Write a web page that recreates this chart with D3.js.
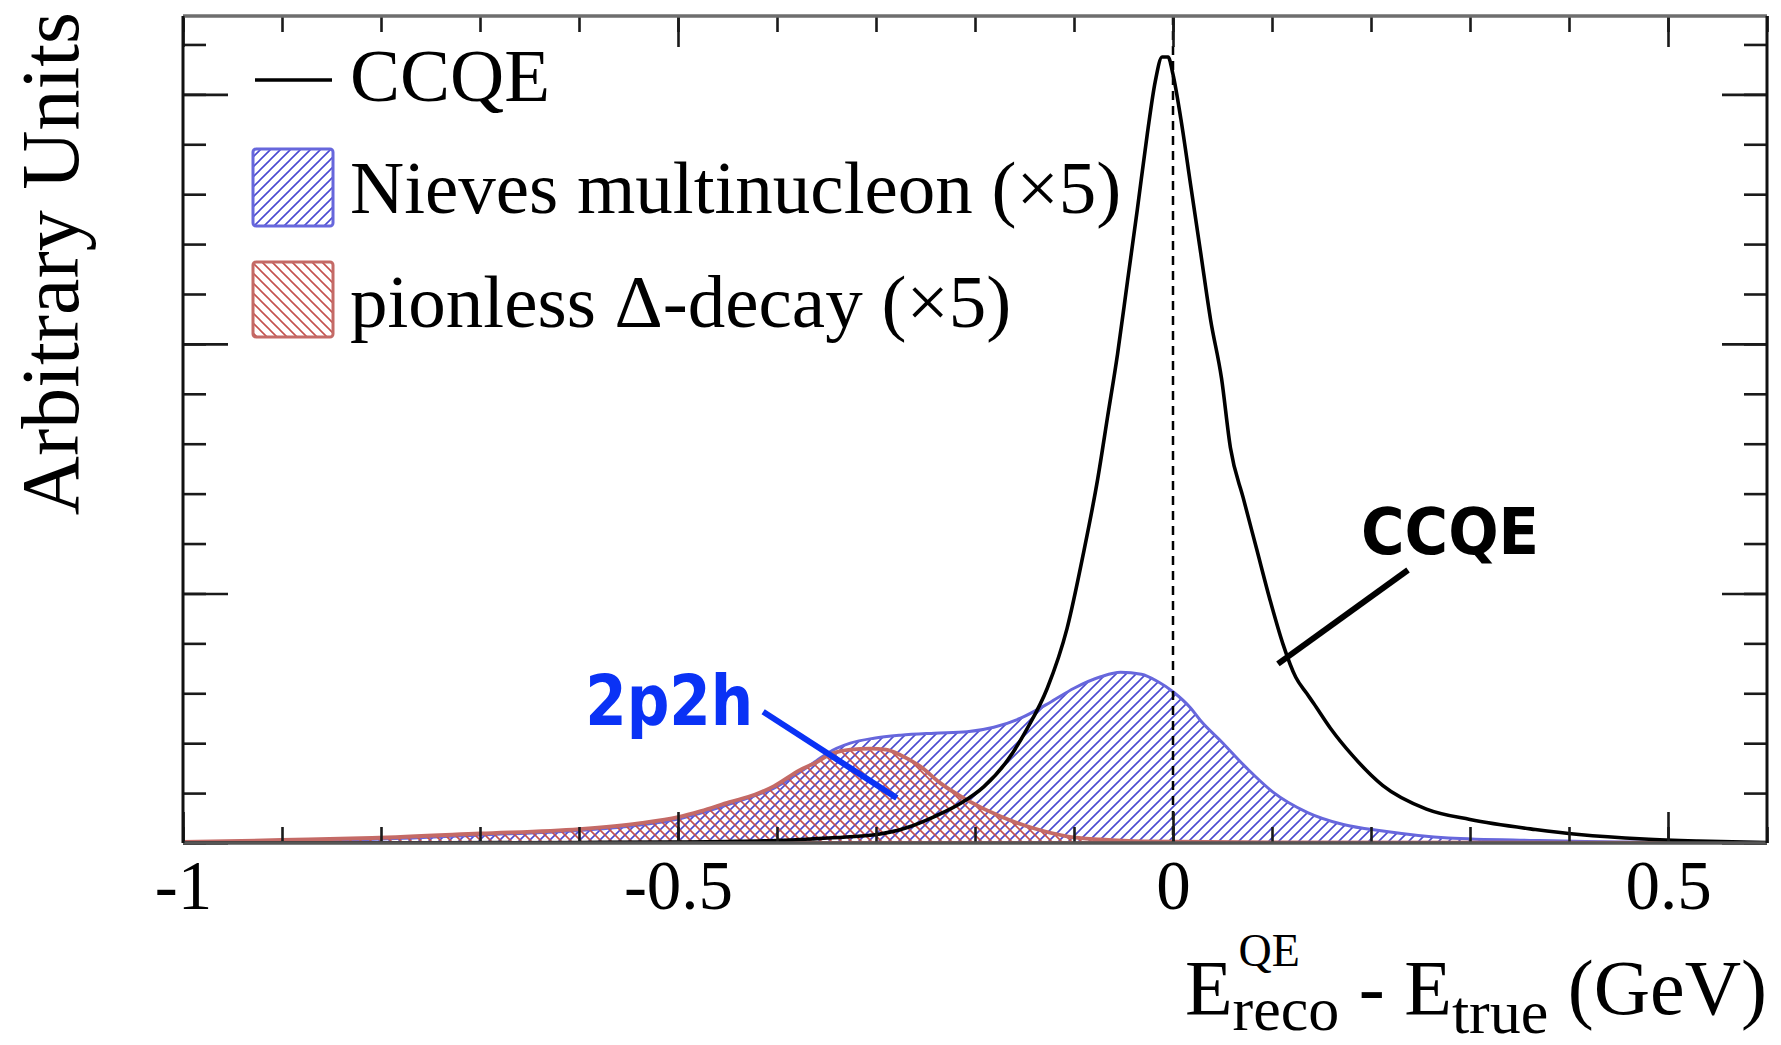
<!DOCTYPE html>
<html>
<head>
<meta charset="utf-8">
<script src="https://cdn.jsdelivr.net/npm/d3@7"></script>
<style>
  html, body { margin: 0; padding: 0; background: #fff; }
  svg { display: block; }
</style>
</head>
<body>
<svg id="chart" width="1781" height="1045"></svg>
<script>
// ---- data: reconstructed minus true neutrino energy (GeV), arbitrary units ----
const ccqeX = [-1.0, -0.8, -0.6, -0.5, -0.45, -0.4, -0.366, -0.33, -0.299, -0.27, -0.241, -0.214, -0.191,
  -0.167, -0.147, -0.127, -0.107, -0.09, -0.076, -0.066, -0.056, -0.046, -0.036, -0.026, -0.018, -0.011,
  -0.005, 0.0, 0.008, 0.018, 0.028, 0.038, 0.049, 0.058, 0.071, 0.0845, 0.098, 0.111, 0.124, 0.135, 0.142,
  0.159, 0.181, 0.212, 0.256, 0.3, 0.366, 0.41, 0.476, 0.53, 0.6];
const ccqeY = [0.0, 0.0, 0.01, 0.02, 0.03, 0.05, 0.08, 0.12, 0.17, 0.3, 0.53, 0.8, 1.13,
  1.66, 2.3, 3.1, 4.3, 5.85, 7.3, 8.55, 9.8, 11.25, 12.7, 14.2, 15.25, 15.75,
  15.75, 15.4, 14.5, 13.16, 11.82, 10.48, 9.31, 7.92, 6.91, 5.89, 4.87, 3.99, 3.32, 3.0, 2.8,
  2.3, 1.76, 1.15, 0.68, 0.47, 0.27, 0.17, 0.08, 0.04, 0.01];

// Nieves multinucleon (x5)
const nievesX = [-1.0, -0.9, -0.8, -0.7, -0.6, -0.538, -0.5, -0.477, -0.448, -0.422, -0.403, -0.377, -0.36,
  -0.349, -0.326, -0.302, -0.275, -0.241, -0.208, -0.181, -0.154, -0.123, -0.1, -0.073, -0.053, -0.032,
  -0.015, 0.0, 0.018, 0.028, 0.049, 0.075, 0.101, 0.136, 0.172, 0.212, 0.278, 0.366, 0.45, 0.6];
const nievesY = [0.01, 0.04, 0.08, 0.16, 0.25, 0.36, 0.48, 0.6, 0.78, 0.95, 1.1, 1.42, 1.65,
  1.8, 2.0, 2.1, 2.16, 2.2, 2.23, 2.32, 2.5, 2.83, 3.1, 3.33, 3.42, 3.38,
  3.23, 3.03, 2.7, 2.45, 2.03, 1.49, 1.02, 0.61, 0.37, 0.24, 0.1, 0.05, 0.02, 0.01];

// pionless Delta-decay (x5)
const deltaX = [-1.0, -0.9, -0.809, -0.7, -0.6, -0.538, -0.5, -0.477, -0.448, -0.422, -0.403, -0.377,
  -0.358, -0.349, -0.326, -0.306, -0.29, -0.275, -0.255, -0.235, -0.208, -0.174, -0.14, -0.106, -0.073,
  -0.03, 0.1, 0.6];
const deltaY = [0.02, 0.06, 0.1, 0.19, 0.28, 0.4, 0.52, 0.64, 0.82, 0.97, 1.14, 1.46,
  1.64, 1.75, 1.87, 1.89, 1.87, 1.76, 1.53, 1.2, 0.86, 0.53, 0.29, 0.13, 0.07,
  0.03, 0.01, 0.0];

const xMajorTicks = [-1, -0.5, 0, 0.5];
const xTickLabels = ["-1", "-0.5", "0", "0.5"];
const xMinorTicks = d3.range(-10, 7).map(i => i / 10);
const yMajorTicks = [0, 5, 10, 15];
const yMinorTicks = d3.range(0, 17);

const legendLabels = ["CCQE", "Nieves multinucleon (\u00d75)", "pionless \u0394-decay (\u00d75)"];

// annotation anchors in data coordinates
const note2p2h = { text: "2p2h", at: [-0.424, 2.37], line: [-0.414, 2.63, -0.279, 0.90] };
const noteCCQE = { text: "CCQE", at: [0.190, 5.79], line: [0.2374, 5.47, 0.106, 3.59] };

// ---- layout ----
const svg = d3.select("#chart");
const frame = { left: 183, right: 1767, top: 16, bottom: 843 };

const x = d3.scaleLinear().domain([-1, 0.6]).range([frame.left, frame.right]);
const y = d3.scaleLinear().domain([0, 16.57]).range([frame.bottom, frame.top]);

const serif = "'Liberation Serif', 'DejaVu Serif', serif";

// hatch patterns
const defs = svg.append("defs");
const blueHatch = defs.append("pattern").attr("id", "hatchBlue")
  .attr("patternUnits", "userSpaceOnUse").attr("width", 10).attr("height", 10);
blueHatch.append("path").attr("d", "M-1,1 l2,-2 M0,10 l10,-10 M9,11 l2,-2")
  .attr("stroke", "#4a4ad0").attr("stroke-width", 1.6);
const redHatch = defs.append("pattern").attr("id", "hatchRed")
  .attr("patternUnits", "userSpaceOnUse").attr("width", 10).attr("height", 10);
redHatch.append("path").attr("d", "M-1,9 l2,2 M0,0 l10,10 M9,-1 l2,2")
  .attr("stroke", "#c4514e").attr("stroke-width", 1.6);

const clip = defs.append("clipPath").attr("id", "plotClip");
clip.append("rect").attr("x", frame.left).attr("y", frame.top)
  .attr("width", frame.right - frame.left).attr("height", frame.bottom - frame.top);

const plot = svg.append("g").attr("clip-path", "url(#plotClip)");

const zip = (xs, ys) => xs.map((v, i) => [v, ys[i]]);

const area = d3.area().x(d => x(d[0])).y0(y(0)).y1(d => y(d[1])).curve(d3.curveMonotoneX);
const line = d3.line().x(d => x(d[0])).y(d => y(d[1])).curve(d3.curveMonotoneX);

const nieves = zip(nievesX, nievesY);
const delta = zip(deltaX, deltaY);
const ccqe = zip(ccqeX, ccqeY);

// Nieves multinucleon area
plot.append("path").datum(nieves).attr("d", area)
  .attr("fill", "url(#hatchBlue)").attr("stroke", "#6767dc").attr("stroke-width", 3);
// pionless Delta area
plot.append("path").datum(delta).attr("d", area)
  .attr("fill", "url(#hatchRed)").attr("stroke", "#c46a66").attr("stroke-width", 3.8);
// CCQE line
plot.append("path").datum(ccqe).attr("d", line)
  .attr("fill", "none").attr("stroke", "#000").attr("stroke-width", 3.6)
  .attr("stroke-linejoin", "round");

// dashed marker at zero
svg.append("line")
  .attr("x1", x(0)).attr("x2", x(0)).attr("y1", frame.top).attr("y2", frame.bottom)
  .attr("stroke", "#000").attr("stroke-width", 2.5).attr("stroke-dasharray", "9,6");

// ---- axes (ticks drawn inward on all four sides) ----
function styleAxis(g) {
  g.select(".domain").remove();
  g.selectAll(".tick line").attr("stroke", "#1a1a1a").attr("stroke-width", 2.6);
}
svg.append("g").attr("transform", `translate(0,${frame.bottom})`)
  .call(d3.axisBottom(x).tickValues(xMinorTicks).tickSize(-16).tickFormat(""))
  .call(styleAxis);
svg.append("g").attr("transform", `translate(0,${frame.bottom})`)
  .call(d3.axisBottom(x).tickValues(xMajorTicks).tickSize(-31).tickPadding(17)
    .tickFormat((d, i) => xTickLabels[i]))
  .call(styleAxis)
  .call(g => g.selectAll(".tick text").attr("font-family", serif).attr("font-size", 69).attr("fill", "#000"));
svg.append("g").attr("transform", `translate(0,${frame.top})`)
  .call(d3.axisTop(x).tickValues(xMinorTicks).tickSize(-16).tickFormat(""))
  .call(styleAxis);
svg.append("g").attr("transform", `translate(0,${frame.top})`)
  .call(d3.axisTop(x).tickValues(xMajorTicks).tickSize(-31).tickFormat(""))
  .call(styleAxis);
svg.append("g").attr("transform", `translate(${frame.left},0)`)
  .call(d3.axisLeft(y).tickValues(yMinorTicks).tickSize(-23).tickFormat(""))
  .call(styleAxis);
svg.append("g").attr("transform", `translate(${frame.left},0)`)
  .call(d3.axisLeft(y).tickValues(yMajorTicks).tickSize(-45).tickFormat(""))
  .call(styleAxis);
svg.append("g").attr("transform", `translate(${frame.right},0)`)
  .call(d3.axisRight(y).tickValues(yMinorTicks).tickSize(-23).tickFormat(""))
  .call(styleAxis);
svg.append("g").attr("transform", `translate(${frame.right},0)`)
  .call(d3.axisRight(y).tickValues(yMajorTicks).tickSize(-45).tickFormat(""))
  .call(styleAxis);

// frame
svg.append("line").attr("x1", frame.left).attr("x2", frame.right).attr("y1", frame.top).attr("y2", frame.top)
  .attr("stroke", "#6e6e6e").attr("stroke-width", 3.5);
svg.append("line").attr("x1", frame.left).attr("x2", frame.right).attr("y1", frame.bottom).attr("y2", frame.bottom)
  .attr("stroke", "#555").attr("stroke-width", 3.5);
svg.append("line").attr("x1", frame.left).attr("x2", frame.left).attr("y1", frame.top).attr("y2", frame.bottom)
  .attr("stroke", "#111").attr("stroke-width", 3);
svg.append("line").attr("x1", frame.right).attr("x2", frame.right).attr("y1", frame.top).attr("y2", frame.bottom)
  .attr("stroke", "#111").attr("stroke-width", 3);

// ---- axis titles ----
svg.append("text")
  .attr("transform", `translate(78,12) rotate(-90)`)
  .attr("text-anchor", "end")
  .attr("font-family", serif).attr("font-size", 82).attr("fill", "#000")
  .text("Arbitrary Units");

// x title: E^{QE}_{reco} - E_{true} (GeV), right-aligned at the frame edge
const xt = svg.append("g");
const mainSize = 78, subSize = 62, supSize = 46;
function piece(txt, size, dx, dy) {
  return xt.append("text").attr("x", dx).attr("y", dy)
    .attr("font-family", serif).attr("font-size", size).attr("fill", "#000").text(txt);
}
let cx = 0;
const e1 = piece("E", mainSize, cx, 0); cx += e1.node().getComputedTextLength();
const sup = piece("QE", supSize, cx + 6, -48);
const sub1 = piece("reco", subSize, cx, 16);
cx += Math.max(sub1.node().getComputedTextLength(), sup.node().getComputedTextLength() + 6);
const mid = piece("\u00a0-\u00a0E", mainSize, cx, 0); cx += mid.node().getComputedTextLength();
const sub2 = piece("true", subSize, cx, 19); cx += sub2.node().getComputedTextLength();
const tail = piece("\u00a0(GeV)", mainSize, cx, 0); cx += tail.node().getComputedTextLength();
xt.attr("transform", `translate(${frame.right - cx},1014)`);

// ---- legend ----
const legend = svg.append("g").attr("font-family", serif).attr("font-size", 75);
legend.append("line").attr("x1", 255).attr("x2", 332).attr("y1", 80).attr("y2", 80)
  .attr("stroke", "#000").attr("stroke-width", 3.4);
legend.append("rect").attr("x", 253).attr("y", 149).attr("width", 80).attr("height", 77).attr("rx", 3)
  .attr("fill", "url(#hatchBlue)").attr("stroke", "#6767dc").attr("stroke-width", 3);
legend.append("rect").attr("x", 253).attr("y", 262).attr("width", 80).attr("height", 75).attr("rx", 3)
  .attr("fill", "url(#hatchRed)").attr("stroke", "#c46a66").attr("stroke-width", 3);
[101, 213, 327].forEach((by, i) => {
  legend.append("text").attr("x", 350).attr("y", by).attr("fill", "#000").text(legendLabels[i]);
});

// ---- annotations ----
const sansBold = "'DejaVu Sans Condensed', 'DejaVu Sans', sans-serif";
svg.append("line")
  .attr("x1", x(note2p2h.line[0])).attr("y1", y(note2p2h.line[1]))
  .attr("x2", x(note2p2h.line[2])).attr("y2", y(note2p2h.line[3]))
  .attr("stroke", "#0a32f5").attr("stroke-width", 6);
svg.append("text")
  .attr("x", x(note2p2h.at[0])).attr("y", y(note2p2h.at[1]))
  .attr("text-anchor", "end")
  .attr("font-family", sansBold).attr("font-weight", "bold").attr("font-size", 70)
  .attr("textLength", 168).attr("lengthAdjust", "spacingAndGlyphs")
  .attr("fill", "#0a32f5").text(note2p2h.text);

svg.append("line")
  .attr("x1", x(noteCCQE.line[0])).attr("y1", y(noteCCQE.line[1]))
  .attr("x2", x(noteCCQE.line[2])).attr("y2", y(noteCCQE.line[3]))
  .attr("stroke", "#000").attr("stroke-width", 6);
svg.append("text")
  .attr("x", x(noteCCQE.at[0])).attr("y", y(noteCCQE.at[1]))
  .attr("font-family", sansBold).attr("font-weight", "bold").attr("font-size", 64)
  .attr("textLength", 178).attr("lengthAdjust", "spacingAndGlyphs")
  .attr("fill", "#000").text(noteCCQE.text);
</script>
</body>
</html>
